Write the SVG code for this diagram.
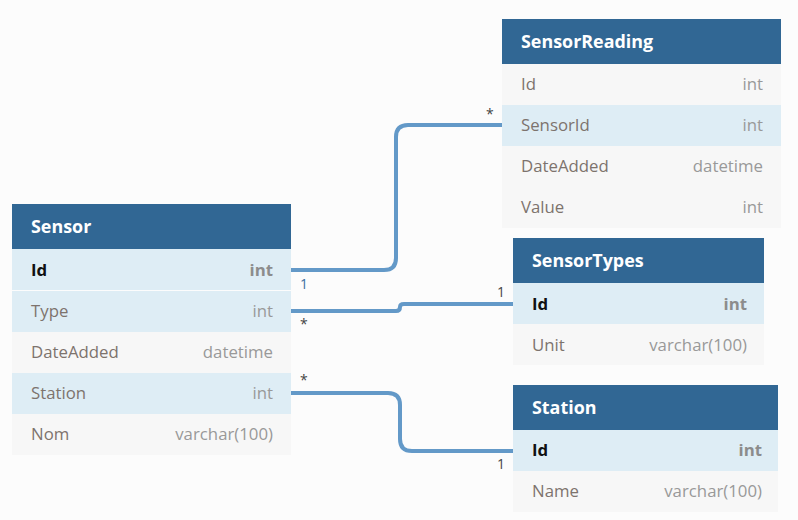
<svg xmlns="http://www.w3.org/2000/svg" width="798" height="520" viewBox="0 0 798 520">
<style>
.bg{fill:#fcfcfc}
.hd{fill:#316794}
.rb{fill:#deedf5}
.rg{fill:#f7f7f7}
.ht{font-family:"Open Sans","Liberation Sans",sans-serif;font-size:17.9px;font-weight:bold;fill:#ffffff}
.fn{font-family:"Open Sans","Liberation Sans",sans-serif;font-size:16.8px;fill:#7d736d}
.ft{font-family:"Open Sans","Liberation Sans",sans-serif;font-size:16.8px;fill:#999999;text-anchor:end}
.pk{font-family:"Open Sans","Liberation Sans",sans-serif;font-size:16.8px;font-weight:bold;fill:#111111}
.pt{font-family:"Open Sans","Liberation Sans",sans-serif;font-size:16.8px;font-weight:bold;fill:#8c8c8c;text-anchor:end}
.cn{fill:none;stroke:#6399c8;stroke-width:4}
.lb{font-family:"Open Sans","Liberation Sans",sans-serif;font-size:14px;fill:#444444}
</style>
<rect class="bg" x="0" y="0" width="798" height="520"/>
<g id="connectors">
<path class="cn" d="M291 270 H384 Q396 270 396 258 V137 Q396 125 408 125 H502"/>
<path class="cn" d="M291 311 H396 Q400 311 400 307 Q400 304 404 304 H513"/>
<path class="cn" d="M291 393 H388 Q400 393 400 405 V439 Q400 451 412 451 H513"/>
<text class="lb" x="300" y="289" style="fill:#3a6ea0">1</text>
<text class="lb" x="486" y="119">*</text>
<text class="lb" x="300" y="329">*</text>
<text class="lb" x="497" y="297">1</text>
<text class="lb" x="300" y="385">*</text>
<text class="lb" x="497" y="469">1</text>
</g>
<g id="Sensor">
<rect class="hd" x="12" y="204" width="279" height="45"/>
<text class="ht" x="31" y="233">Sensor</text>
<rect class="rb" x="12" y="249" width="279" height="41"/>
<rect class="rb" x="12" y="291" width="279" height="41"/>
<rect class="rg" x="12" y="332" width="279" height="41"/>
<rect class="rb" x="12" y="373" width="279" height="41"/>
<rect class="rg" x="12" y="414" width="279" height="41"/>
<text class="pk" x="31" y="276">Id</text><text class="pt" x="273" y="276">int</text>
<text class="fn" x="31" y="317">Type</text><text class="ft" x="273" y="317">int</text>
<text class="fn" x="31" y="358">DateAdded</text><text class="ft" x="273" y="358">datetime</text>
<text class="fn" x="31" y="399">Station</text><text class="ft" x="273" y="399">int</text>
<text class="fn" x="31" y="440">Nom</text><text class="ft" x="273" y="440">varchar(100)</text>
</g>
<g id="SensorReading">
<rect class="hd" x="502" y="19" width="279" height="45"/>
<text class="ht" x="521" y="48">SensorReading</text>
<rect class="rg" x="502" y="64" width="279" height="41"/>
<rect class="rb" x="502" y="105" width="279" height="41"/>
<rect class="rg" x="502" y="146" width="279" height="41"/>
<rect class="rg" x="502" y="187" width="279" height="41"/>
<text class="fn" x="521" y="90">Id</text><text class="ft" x="763" y="90">int</text>
<text class="fn" x="521" y="131">SensorId</text><text class="ft" x="763" y="131">int</text>
<text class="fn" x="521" y="172">DateAdded</text><text class="ft" x="763" y="172">datetime</text>
<text class="fn" x="521" y="213">Value</text><text class="ft" x="763" y="213">int</text>
</g>
<g id="SensorTypes">
<rect class="hd" x="513" y="238" width="251" height="45"/>
<text class="ht" x="532" y="267">SensorTypes</text>
<rect class="rb" x="513" y="283" width="251" height="41"/>
<rect class="rg" x="513" y="324" width="251" height="41"/>
<text class="pk" x="532" y="310">Id</text><text class="pt" x="747" y="310">int</text>
<text class="fn" x="532" y="351">Unit</text><text class="ft" x="747" y="351">varchar(100)</text>
</g>
<g id="Station">
<rect class="hd" x="513" y="385" width="265" height="45"/>
<text class="ht" x="532" y="414">Station</text>
<rect class="rb" x="513" y="430" width="265" height="41"/>
<rect class="rg" x="513" y="471" width="265" height="41"/>
<text class="pk" x="532" y="456">Id</text><text class="pt" x="762" y="456">int</text>
<text class="fn" x="532" y="497">Name</text><text class="ft" x="762" y="497">varchar(100)</text>
</g>
</svg>
